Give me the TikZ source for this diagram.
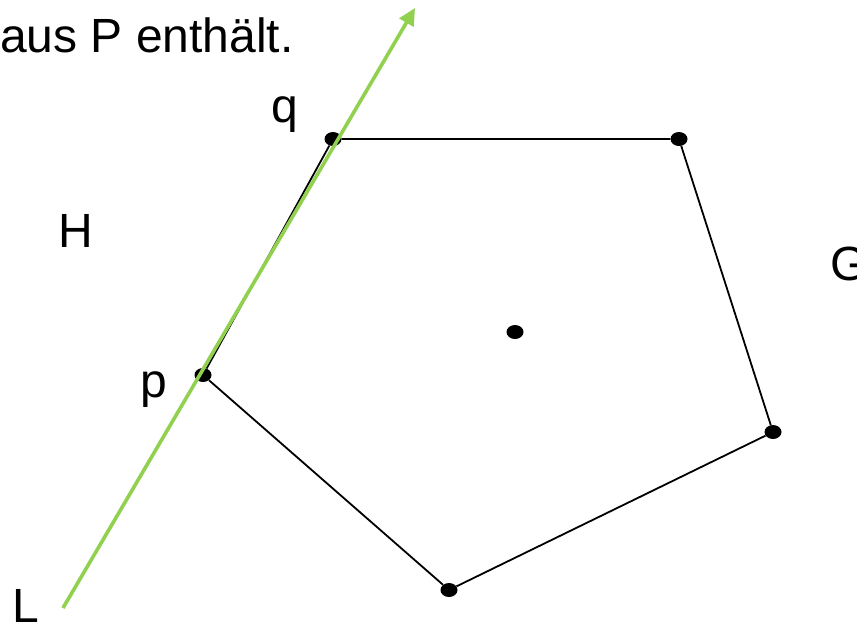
\documentclass[tikz,border=0pt]{standalone}
\usepackage{fontspec}
\setmainfont{Liberation Sans}
\usetikzlibrary{arrows.meta,positioning,shapes.geometric}
\definecolor{LineGreen}{RGB}{146,208,80}

\begin{document}
\begin{tikzpicture}[
        x=1pt,y=-1pt,
        every node/.style={font=\fontsize{48}{52}\selectfont,inner sep=0pt},
        vNode/.style={ellipse,fill=black,minimum width=17pt,minimum height=14pt,inner sep=0pt},
        tLabel/.style={anchor=base west},
        pEdge/.style={draw=black,line width=1.8pt},
        lEdge/.style={draw=LineGreen,line width=3.6pt,-{Triangle[length=17pt,width=16pt]}}]
        \useasboundingbox (0,0) rectangle (857,622);
        \node[vNode] (q) at (333,139) {};
        \node[vNode] (v1) at (679,139) {};
        \node[vNode] (v2) at (773,432) {};
        \node[vNode] (v3) at (449,590) {};
        \node[vNode] (p) at (203,375) {};
        \node[vNode] (c) at (515,332) {};
        \draw[pEdge] (q)--(v1)--(v2)--(v3)--(p)--(q);
        \coordinate (l0) at (63,608);
        \coordinate (l1) at (415,8);
        \draw[lEdge] (l0)--(l1);
        \node[tLabel] (title) at (0,52) {aus P enthält.};
        \node[tLabel] (qLabel) at (271,122) {q};
        \node[tLabel] (hLabel) at (58,247) {H};
        \node[tLabel] (pLabel) at (140,397) {p};
        \node[tLabel] (gLabel) at (830,280) {G};
        \node[tLabel] (lLabel) at (12,622) {L};
      \end{tikzpicture}
\end{document}
